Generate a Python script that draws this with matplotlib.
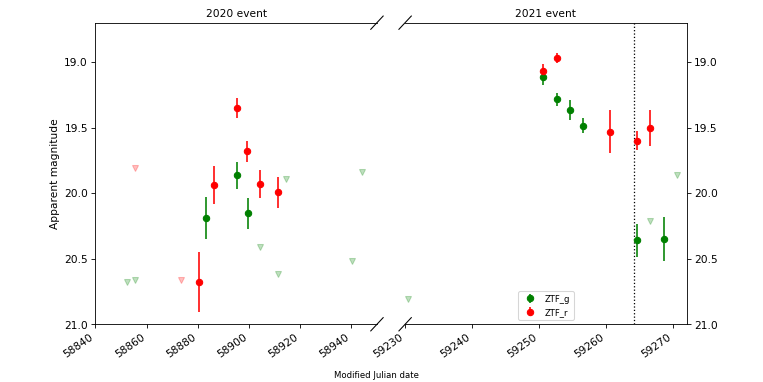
import matplotlib
matplotlib.use('Agg')
import matplotlib.pyplot as plt
import numpy as np

# ZTF_g 検出点
g_mjd = [58883.4, 58895.4, 58899.5, 59250.55, 59252.65, 59254.6, 59256.6, 59264.6, 59268.6]
g_mag = [20.19, 19.865, 20.155, 19.115, 19.285, 19.365, 19.485, 20.36, 20.35]
g_err = [0.16, 0.105, 0.118, 0.063, 0.052, 0.079, 0.06, 0.124, 0.165]

# ZTF_r 検出点
r_mjd = [58880.4, 58886.4, 58895.25, 58899.4, 58904.35, 58911.4, 59250.55, 59252.65, 59260.5, 59264.6, 59266.5]
r_mag = [20.68, 19.94, 19.35, 19.68, 19.93, 19.995, 19.068, 18.968, 19.53, 19.6, 19.5]
r_err = [0.23, 0.146, 0.075, 0.08, 0.106, 0.12, 0.05, 0.04, 0.165, 0.073, 0.137]

# 上限値（三角）
g_lim_mjd = [58852.4, 58855.4, 58904.35, 58911.4, 58914.4, 58940.3, 58944.3, 59230.5, 59266.6, 59270.6]
g_lim_mag = [20.68, 20.665, 20.41, 20.62, 19.89, 20.515, 19.835, 20.805, 20.215, 19.865]
r_lim_mjd = [58855.4, 58873.4]
r_lim_mag = [19.81, 20.665]

event_mjd = 59264.1

fig, (ax1, ax2) = plt.subplots(1, 2, figsize=(10, 5.01), dpi=76.3)
fig.subplots_adjust(left=0.125, right=0.9, top=0.94, bottom=0.151, wspace=0.1)

# 両方のaxesに同じデータを描き、xlimで切り取る
for ax in (ax1, ax2):
    ax.errorbar(g_mjd, g_mag, yerr=g_err, fmt='o', color='green', label='ZTF_g')
    ax.errorbar(r_mjd, r_mag, yerr=r_err, fmt='o', color='red', label='ZTF_r')
    ax.plot(g_lim_mjd, g_lim_mag, 'v', color='green', alpha=0.25)
    ax.plot(r_lim_mjd, r_lim_mag, 'v', color='red', alpha=0.25)
    ax.set_ylim(21.0, 18.7)
    ax.ticklabel_format(axis='x', useOffset=False)

ax2.axvline(event_mjd, color='k', linestyle=':', linewidth=1.2)

ax1.set_xlim(58840, 58950)
ax2.set_xlim(59230, 59272)
ax1.set_xticks(np.arange(58840, 58941, 20))
ax2.set_xticks(np.arange(59230, 59271, 10))
ax1.set_yticks([19.0, 19.5, 20.0, 20.5, 21.0])
ax2.set_yticks([19.0, 19.5, 20.0, 20.5, 21.0])

ax1.spines['right'].set_visible(False)
ax2.spines['left'].set_visible(False)
ax1.yaxis.tick_left()
ax2.yaxis.tick_right()
ax2.tick_params(axis='y', labelright=True, labelleft=False)

for ax in (ax1, ax2):
    plt.setp(ax.get_xticklabels(), rotation=35, ha='right')

# 軸の切れ目の斜線
d = 0.022
kw = dict(color='k', clip_on=False, linewidth=1)
ax1.plot((1 - d, 1 + d), (-d, d), transform=ax1.transAxes, **kw)
ax1.plot((1 - d, 1 + d), (1 - d, 1 + d), transform=ax1.transAxes, **kw)
ax2.plot((-d, d), (-d, d), transform=ax2.transAxes, **kw)
ax2.plot((-d, d), (1 - d, 1 + d), transform=ax2.transAxes, **kw)

ax1.set_title('2020 event', fontsize=10)
ax2.set_title('2021 event', fontsize=10)
ax1.set_ylabel('Apparent magnitude')
fig.text(0.494, 0.018, 'Modified Julian date', ha='center', va='center', fontsize=8)

ax2.legend(loc='lower center', fontsize=8)

plt.savefig('out.png')
